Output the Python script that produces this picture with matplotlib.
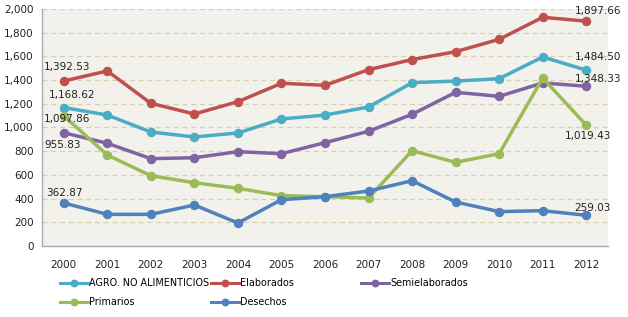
import matplotlib
matplotlib.use("Agg")
import matplotlib.pyplot as plt
from matplotlib.ticker import FuncFormatter

years = [2000, 2001, 2002, 2003, 2004, 2005, 2006, 2007, 2008, 2009, 2010, 2011, 2012]
agro = [1168.62, 1105, 962, 920, 954, 1072, 1105, 1173, 1378, 1392, 1412, 1595, 1484.50]
elaborados = [1392.53, 1477, 1204, 1114, 1218, 1373, 1356, 1488, 1573, 1640, 1744, 1930, 1897.66]
semielaborados = [955.83, 867, 737, 745, 796, 779, 872, 968, 1111, 1297, 1263, 1376, 1348.33]
primarios = [1097.86, 768, 593, 534, 487, 425, 416, 405, 804, 706, 779, 1418, 1019.43]
desechos = [362.87, 267, 267, 346, 194, 391, 416, 464, 551, 371, 290, 298, 259.03]

names = ["AGRO. NO ALIMENTICIOS", "Elaborados", "Semielaborados", "Primarios", "Desechos"]
series = [agro, elaborados, semielaborados, primarios, desechos]
colors = ["#4BACC6", "#C0504D", "#8064A2", "#9BBB59", "#4F81BD"]

plt.rcParams['font.family'] = ['DejaVu Sans']
fig = plt.figure(figsize=(6.28, 3.17), dpi=100)
W, H = 628, 317
ax = fig.add_axes([42 / W, 1 - 246 / H, (608 - 42) / W, (246 - 9) / H])
ax.set_facecolor("#F2F1EC")

xpos = list(range(len(years)))
lines = {}
for name, vals, c in zip(names, series, colors):
    ln, = ax.plot(xpos, vals, color=c, lw=2.5, marker='o', ms=5.8, zorder=3, label=name)
    lines[name] = ln

ax.set_xlim(-0.5, len(years) - 0.5)
ax.set_ylim(0, 2000)
ax.set_yticks(range(0, 2001, 200))
ax.yaxis.set_major_formatter(FuncFormatter(lambda v, p: f"{int(v):,}"))
ax.set_xticks(xpos)
ax.set_xticklabels([str(y) for y in years])
ax.tick_params(axis='both', length=0, labelsize=7.5, colors="#222222")
ax.tick_params(axis='x', pad=10)
ax.tick_params(axis='y', pad=6)
ax.grid(axis='y', color="#D6D0AE", linestyle=(0, (4, 3)), lw=0.9, zorder=1)
for s in ['top', 'right']:
    ax.spines[s].set_visible(False)
for s in ['left', 'bottom']:
    ax.spines[s].set_color("#AAAAAA")
    ax.spines[s].set_linewidth(1.0)

# data labels: (series index, point index, dx, dy)
labs = [
    (1, 0, 3, 14), (0, 0, 8, 13), (3, 0, 3, -3), (2, 0, -1, -12), (4, 0, 1, 10),
    (1, 12, 12, 10), (0, 12, 12, 13), (2, 12, 12, 7), (3, 12, 2, -11), (4, 12, 6, 7),
]
for si, pi, dx, dy in labs:
    v = series[si][pi]
    ax.annotate(f"{v:,.2f}", (xpos[pi], v), xytext=(dx, dy), textcoords='offset pixels',
                ha='center', va='center', fontsize=7.5, color="#222222", zorder=5)

def mk_leg(labels, x):
    hs = [lines[l] for l in labels]
    leg = fig.legend(hs, labels, loc='upper left', bbox_to_anchor=(x / W, 1 - 278 / H),
                     frameon=False, fontsize=6.9, handlelength=2.9, handletextpad=0.15,
                     borderpad=0, borderaxespad=0, labelspacing=0.95, markerscale=0.8)
    for lh in leg.legend_handles:
        lh.set_linewidth(2.2)
    return leg

mk_leg(["AGRO. NO ALIMENTICIOS", "Primarios"], 60)
mk_leg(["Elaborados", "Desechos"], 211)
mk_leg(["Semielaborados"], 361)

fig.savefig("out.png", dpi=100, facecolor="white")
